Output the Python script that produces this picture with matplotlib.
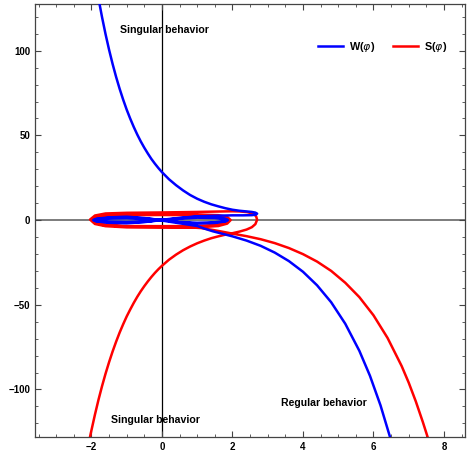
import numpy as np
import matplotlib.pyplot as plt
from matplotlib.ticker import MultipleLocator

plt.rcParams['font.family'] = ['Liberation Sans', 'DejaVu Sans']
plt.rcParams['mathtext.fontset'] = 'dejavusans'

# W(phi): upper branch -> loop near x~2.7 -> tangle around the origin -> lower branch
w_upper_x = [-1.82, -1.7, -1.6, -1.5, -1.4, -1.3, -1.2, -1.1, -1.0, -0.9, -0.8,
             -0.7, -0.6, -0.5, -0.4, -0.3, -0.2, -0.1, 0.0, 0.2, 0.4, 0.6, 0.8,
             1.0, 1.2, 1.4, 1.6, 1.8, 2.0, 2.2, 2.4, 2.55, 2.65, 2.7, 2.66, 2.55,
             2.3, 2.0]
w_upper_y = [133, 119.9, 109.8, 100.6, 92.2, 84.5, 77.5, 71.1, 65.2, 59.9, 55,
             50.5, 46.4, 42.7, 39.3, 36.1, 33.3, 30.7, 28.3, 24.1, 20.6, 17.5, 14.8,
             12.6, 10.8, 9.3, 8.1, 7.0, 6.1, 5.5, 5.1, 4.8, 4.4, 3.8, 3.2, 2.9,
             2.8, 2.8]
w_knot_x = [1.6, 1.3, 1.0, 0.5, 0.0, -0.5, -1.0, -1.5, -1.85, -1.95, -1.85, -1.5,
            -1.0, -0.5, 0.0, 0.5, 1.0, 1.5, 1.8, 1.87, 1.8, 1.5, 1.0, 0.5, 0.0,
            -0.5, -1.0, -1.5, -1.9, -1.92, -1.9, -1.5, -1.0, -0.5, 0.0, 0.5, 1.0,
            1.5, 1.82, 1.85, 1.8, 1.5, 1.0, 0.5, 0.0, -0.5, -1.0, -1.5, -1.88,
            -1.88, -1.5, -1.0, -0.5, 0.0, 0.5, 1.0]
w_knot_y = [2.6, 2.4, 2.0, 1.1, 0.0, -1.2, -1.9, -1.6, -0.8, 0.0, 0.8, 1.6,
            2.0, 1.2, 0.0, -1.3, -2.1, -1.7, -0.8, 0.0, 0.8, 1.7, 2.2, 1.3, 0.2,
            -1.0, -1.5, -1.3, -0.5, 0.0, 0.5, 1.3, 1.6, 1.0, 0.0, -1.1, -1.6,
            -1.3, -0.5, 0.0, 0.5, 1.2, 1.4, 0.8, -0.1, -0.8, -1.1, -0.9, -0.3,
            0.3, 0.9, 1.1, 0.6, -0.3, -1.9, -3.5]
w_lower_x = [1.2, 1.44, 1.7, 2.0, 2.4, 2.8, 3.2, 3.6, 4.0, 4.4, 4.8, 5.2, 5.6,
             5.9, 6.2, 6.5, 6.55]
w_lower_y = [-5.0, -6.6, -8.0, -9.6, -12.1, -15.2, -19.2, -24.2, -30.5, -38.5,
             -48.5, -61.2, -77.2, -91.9, -109.4, -130.2, -134]

# S(phi): lower-left branch -> loop near x~2.7 -> nested ovals -> lower-right branch
s_left_x = [-2.05, -2.02, -1.9, -1.8, -1.7, -1.6, -1.5, -1.4, -1.3, -1.2, -1.1,
            -1.0, -0.9, -0.8, -0.7, -0.6, -0.5, -0.4, -0.3, -0.2, -0.1, 0.0, 0.2,
            0.4, 0.6, 0.8, 1.0, 1.2, 1.4, 1.6, 1.8, 2.0, 2.2, 2.4, 2.55, 2.65,
            2.7, 2.67, 2.58, 2.42, 2.2, 2.0]
s_left_y = [-129, -126, -114.8, -106.1, -98.1, -90.7, -83.9, -77.6, -71.8, -66.4,
            -61.5, -56.9, -52.8, -48.9, -45.3, -42, -39, -36.2, -33.6, -31.2, -29,
            -27, -23.4, -20.4, -17.8, -15.6, -13.7, -12.1, -10.7, -9.6, -8.6, -7.75,
            -6.8, -5.6, -4.2, -2.4, 0.2, 2.3, 3.8, 4.7, 5.1, 5.2]
s_knot_x = [1.5, 1.0, 0.0, -1.0, -1.6, -1.9, -2.04, -1.9, -1.6, -1.0, 0.0, 1.0,
            1.6, 1.85, 1.95, 1.85, 1.6, 1.0, 0.0, -1.0, -1.6, -1.95, -1.98, -1.92,
            -1.7, -1.0, 0.0, 1.0, 1.55, 1.8, 1.9, 1.8, 1.5, 1.0, 0.0, -1.0, -1.6,
            -1.9, -1.95, -1.8, -1.5, -1.0, 0.0, 0.7, 1.1]
s_knot_y = [5.0, 4.8, 4.5, 4.3, 3.9, 2.7, 0.3, -2.3, -3.6, -4.3, -4.5, -4.3,
            -3.5, -2.1, 0.0, 1.9, 2.9, 3.3, 3.3, 3.1, 2.5, 1.1, -0.3, -1.5,
            -2.8, -3.5, -3.6, -3.5, -2.8, -1.6, 0.0, 1.5, 2.4, 2.9, 3.0, 2.9, 2.6,
            1.5, 0.0, -2.0, -3.2, -3.8, -3.9, -4.2, -4.7]
s_right_x = [1.44, 1.8, 2.0, 2.4, 2.8, 3.2, 3.6, 4.0, 4.4, 4.8, 5.2, 5.6, 6.0,
             6.4, 6.8, 7.0, 7.2, 7.4, 7.55, 7.6]
s_right_y = [-5.8, -7.2, -8.0, -9.5, -11.3, -13.6, -16.5, -20.1, -24.5, -30,
             -37, -45.5, -56.2, -69.6, -86.2, -96, -107, -119.2, -129, -133]

w_x = w_upper_x + w_knot_x + w_lower_x
w_y = w_upper_y + w_knot_y + w_lower_y
s_x = s_left_x + s_knot_x + s_right_x
s_y = s_left_y + s_knot_y + s_right_y

x_ticks = [-2, 0, 2, 4, 6, 8]
x_labels = ['\u22122', '0', '2', '4', '6', '8']
y_ticks = [-100, -50, 0, 50, 100]
y_labels = ['\u2212100', '\u221250', '0', '50', '100']

fig = plt.figure(figsize=(4.67, 4.57), dpi=100)
ax = fig.add_axes([0.075, 0.044, 0.921, 0.947])

ax.axhline(0, color='#666666', lw=1.2, zorder=1)
ax.axvline(0, color='black', lw=0.9, zorder=1)

ax.plot(w_x, w_y, color='#0000ff', lw=1.8, label=r'W($\varphi$)', zorder=3,
        solid_joinstyle='round')
ax.plot(s_x, s_y, color='#ff0000', lw=1.8, label=r'S($\varphi$)', zorder=2,
        solid_joinstyle='round')

ax.set_xlim(-3.6, 8.6)
ax.set_ylim(-128, 127.5)
ax.set_xticks(x_ticks)
ax.set_xticklabels(x_labels, fontweight='bold')
ax.set_yticks(y_ticks)
ax.set_yticklabels(y_labels, fontweight='bold')
ax.xaxis.set_minor_locator(MultipleLocator(0.5))
ax.yaxis.set_minor_locator(MultipleLocator(10))
ax.tick_params(which='both', direction='in', top=True, right=True,
               color='#444444', labelsize=7)
ax.tick_params(which='major', length=4, width=0.8)
ax.tick_params(which='minor', length=2.5, width=0.6)
for sp in ax.spines.values():
    sp.set_color('#444444')
    sp.set_linewidth(0.9)

ax.text(-1.19, 112, 'Singular behavior', fontsize=7.6, fontweight='bold',
        va='center', ha='left')
ax.text(-1.445, -118, 'Singular behavior', fontsize=7.6, fontweight='bold',
        va='center', ha='left')
ax.text(3.39, -108, 'Regular behavior', fontsize=7.6, fontweight='bold',
        va='center', ha='left')

ax.legend(loc='upper right', bbox_to_anchor=(0.980, 0.939), ncol=2,
          frameon=False, handlelength=2.3, columnspacing=1.6,
          handletextpad=0.55, prop={'weight': 'bold', 'size': 7.8})

fig.savefig('out.png', dpi=100)
